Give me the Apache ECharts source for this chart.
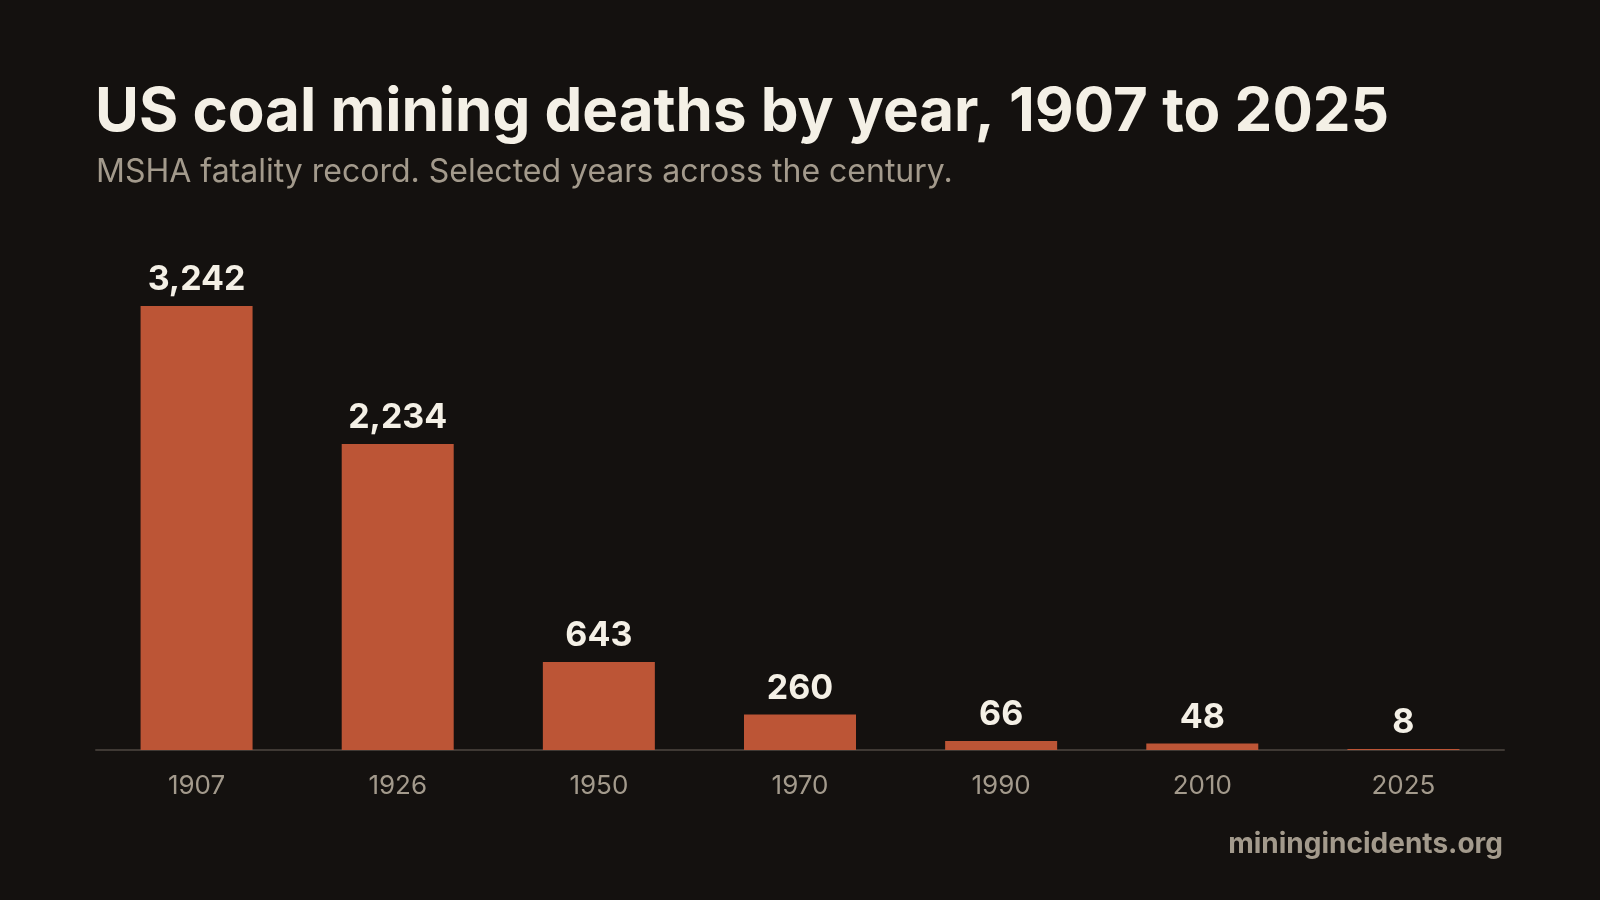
<!DOCTYPE html>
<html>
<head>
<meta charset="utf-8">
<script src="https://cdn.jsdelivr.net/npm/echarts@6/dist/echarts.min.js"></script>
<style>
  html, body { margin: 0; padding: 0; background: #14110f; }
  #chart { width: 1600px; height: 900px; }
</style>
</head>
<body>
<div id="chart"></div>
<script>
var years = ['1907', '1926', '1950', '1970', '1990', '2010', '2025'];
var deaths = [3242, 2234, 643, 260, 66, 48, 8];

var myChart = echarts.init(document.getElementById('chart'));

var option = {
    backgroundColor: '#14110f',
    textStyle: { fontFamily: 'Inter' },
    title: [{
        text: 'US coal mining deaths by year, 1907 to 2025',
        left: 95,
        top: 83,
        padding: 0,
        textStyle: { color: '#f4f0e6', fontSize: 60, fontWeight: 'bold', fontFamily: 'Inter' }
    }, {
        text: 'MSHA fatality record. Selected years across the century.',
        left: 96,
        top: 156,
        padding: 0,
        textStyle: { color: '#a39a8c', fontSize: 32, fontWeight: 'normal', fontFamily: 'Inter' }
    }],
    graphic: [{
        type: 'text',
        right: 97,
        top: 831,
        style: {
            text: 'miningincidents.org',
            fill: '#a39a8c',
            font: 'bold 28px Inter'
        }
    }],
    grid: { left: 96, right: 96, top: 306, bottom: 150 },
    xAxis: {
        type: 'category',
        data: years,
        axisLine: { lineStyle: { color: '#3f3934', width: 2 } },
        axisTick: { show: false },
        axisLabel: { color: '#a39a8c', fontSize: 26, margin: 23, fontFamily: 'Inter' }
    },
    yAxis: {
        type: 'value',
        min: 0,
        max: 3242,
        show: false,
        splitLine: { show: false }
    },
    series: [{
        type: 'bar',
        data: deaths,
        barWidth: 112,
        itemStyle: { color: '#bc5536' },
        label: {
            show: true,
            position: 'top',
            distance: 9,
            color: '#f4f0e6',
            fontSize: 34,
            fontWeight: 'bold',
            fontFamily: 'Inter',
            formatter: function (p) { return p.value.toLocaleString('en-US'); }
        }
    }]
};

myChart.setOption(option);
</script>
</body>
</html>
